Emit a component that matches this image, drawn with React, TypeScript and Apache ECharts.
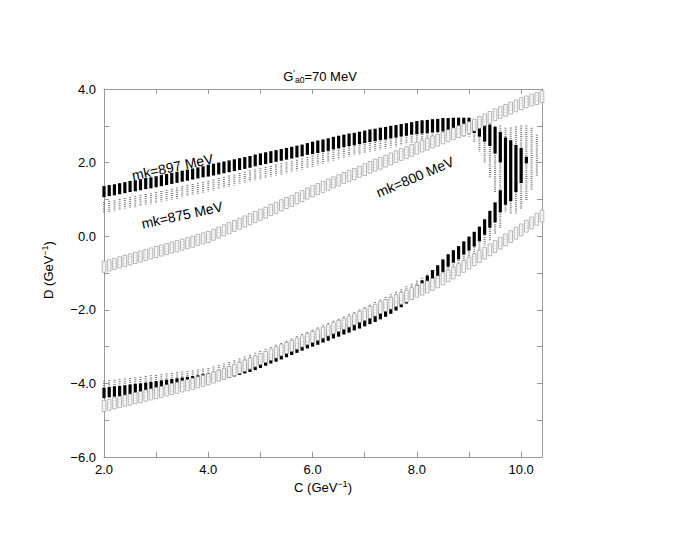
import React, { useEffect, useRef } from 'react';
import * as echarts from 'echarts';

// C grid (GeV^-1), one mark every 0.1
const C_GRID = [
  2.0, 2.1, 2.2, 2.3, 2.4, 2.5, 2.6, 2.7, 2.8, 2.9,
  3.0, 3.1, 3.2, 3.3, 3.4, 3.5, 3.6, 3.7, 3.8, 3.9,
  4.0, 4.1, 4.2, 4.3, 4.4, 4.5, 4.6, 4.7, 4.8, 4.9,
  5.0, 5.1, 5.2, 5.3, 5.4, 5.5, 5.6, 5.7, 5.8, 5.9,
  6.0, 6.1, 6.2, 6.3, 6.4, 6.5, 6.6, 6.7, 6.8, 6.9,
  7.0, 7.1, 7.2, 7.3, 7.4, 7.5, 7.6, 7.7, 7.8, 7.9,
  8.0, 8.1, 8.2, 8.3, 8.4, 8.5, 8.6, 8.7, 8.8, 8.9,
  9.0, 9.1, 9.2, 9.3, 9.4, 9.5, 9.6, 9.7, 9.8, 9.9,
  10.0, 10.1, 10.2, 10.3, 10.4,
];

// mk = 897 MeV (filled black), upper branch: centre and half-height of D
const MK897_UP_MID = [
  1.21, 1.24, 1.26, 1.29, 1.32, 1.35, 1.37, 1.40, 1.43, 1.45,
  1.48, 1.51, 1.54, 1.57, 1.60, 1.63, 1.66, 1.69, 1.72, 1.75,
  1.78, 1.81, 1.84, 1.87, 1.90, 1.93, 1.96, 1.99, 2.02, 2.06,
  2.09, 2.12, 2.15, 2.18, 2.21, 2.24, 2.27, 2.30, 2.33, 2.37,
  2.40, 2.43, 2.46, 2.49, 2.53, 2.56, 2.59, 2.62, 2.64, 2.67,
  2.70, 2.73, 2.75, 2.78, 2.80, 2.83, 2.85, 2.88, 2.90, 2.93,
  2.95, 2.97, 2.98, 3.00, 3.01, 3.03, 3.03, 3.04, 3.04, 3.04,
  3.04, 2.98, 2.91, 2.82, 2.74, 2.61, 2.42, 1.77, 1.78, 1.84,
  1.92, 2.07,
];
const MK897_UP_HALF = [
  0.15, 0.15, 0.15, 0.15, 0.15, 0.15, 0.15, 0.15, 0.15, 0.15,
  0.15, 0.15, 0.15, 0.15, 0.15, 0.15, 0.15, 0.15, 0.15, 0.15,
  0.16, 0.16, 0.16, 0.16, 0.16, 0.16, 0.16, 0.16, 0.16, 0.16,
  0.16, 0.16, 0.16, 0.16, 0.16, 0.16, 0.16, 0.16, 0.16, 0.16,
  0.17, 0.17, 0.17, 0.17, 0.17, 0.17, 0.17, 0.17, 0.17, 0.17,
  0.17, 0.17, 0.17, 0.17, 0.17, 0.17, 0.17, 0.17, 0.17, 0.17,
  0.18, 0.18, 0.18, 0.18, 0.18, 0.18, 0.18, 0.18, 0.18, 0.18,
  0.18, 0.175, 0.205, 0.25, 0.29, 0.36, 0.415, 0.915, 0.825, 0.64,
  0.475, 0.09,
];
// mk = 897 MeV, lower branch
const MK897_LO_MID = [
  -4.26, -4.24, -4.22, -4.21, -4.19, -4.17, -4.15, -4.14, -4.12, -4.10,
  -4.08, -4.06, -4.04, -4.02, -4.00, -3.98, -3.96, -3.94, -3.92, -3.89,
  -3.87, -3.83, -3.79, -3.75, -3.71, -3.67, -3.63, -3.59, -3.55, -3.50,
  -3.44, -3.38, -3.32, -3.27, -3.21, -3.15, -3.09, -3.03, -2.97, -2.91,
  -2.86, -2.81, -2.75, -2.70, -2.64, -2.59, -2.53, -2.48, -2.42, -2.37,
  -2.31, -2.25, -2.19, -2.12, -2.05, -1.97, -1.88, -1.79, -1.69, -1.58,
  -1.47, -1.35, -1.22, -1.08, -0.95, -0.80, -0.66, -0.55, -0.45, -0.32,
  -0.20, -0.08, 0.06, 0.25, 0.46, 0.65, 0.95,
];
const MK897_LO_HALF = [
  0.14, 0.14, 0.14, 0.14, 0.14, 0.14, 0.14, 0.14, 0.14, 0.14,
  0.14, 0.14, 0.14, 0.14, 0.14, 0.14, 0.14, 0.14, 0.14, 0.14,
  0.14, 0.14, 0.14, 0.14, 0.14, 0.14, 0.14, 0.14, 0.14, 0.14,
  0.14, 0.14, 0.14, 0.14, 0.14, 0.14, 0.14, 0.14, 0.14, 0.14,
  0.14, 0.14, 0.14, 0.14, 0.14, 0.14, 0.14, 0.14, 0.14, 0.14,
  0.14, 0.14, 0.14, 0.14, 0.14, 0.14, 0.14, 0.14, 0.14, 0.14,
  0.15, 0.15, 0.15, 0.16, 0.16, 0.17, 0.17, 0.17, 0.18, 0.18,
  0.19, 0.20, 0.20, 0.21, 0.23, 0.27, 0.30,
];

// mk = 875 MeV (grey dotted), upper branch
const MK875_UP_MID = [
  0.78, 0.81, 0.83, 0.86, 0.89, 0.92, 0.94, 0.97, 1.00, 1.02,
  1.05, 1.08, 1.11, 1.14, 1.17, 1.21, 1.24, 1.27, 1.30, 1.33,
  1.36, 1.39, 1.43, 1.46, 1.50, 1.53, 1.57, 1.60, 1.64, 1.67,
  1.70, 1.73, 1.76, 1.80, 1.83, 1.86, 1.89, 1.93, 1.96, 2.00,
  2.04, 2.08, 2.12, 2.16, 2.20, 2.24, 2.28, 2.31, 2.35, 2.38,
  2.41, 2.44, 2.47, 2.50, 2.53, 2.56, 2.59, 2.62, 2.65, 2.68,
  2.71, 2.74, 2.76, 2.78, 2.80, 2.82, 2.83, 2.84, 2.85, 2.85,
  2.86, 2.80, 2.68, 2.53, 2.33, 2.10, 1.93, 1.80, 1.78, 1.80,
  1.88, 1.98, 2.10, 2.19,
];
const MK875_UP_HALF = [
  0.15, 0.15, 0.15, 0.15, 0.15, 0.15, 0.15, 0.15, 0.15, 0.15,
  0.15, 0.15, 0.15, 0.15, 0.15, 0.15, 0.15, 0.15, 0.15, 0.15,
  0.15, 0.15, 0.15, 0.15, 0.15, 0.15, 0.15, 0.15, 0.15, 0.15,
  0.15, 0.15, 0.15, 0.15, 0.15, 0.15, 0.15, 0.15, 0.15, 0.15,
  0.15, 0.15, 0.15, 0.15, 0.15, 0.15, 0.15, 0.15, 0.15, 0.15,
  0.15, 0.15, 0.15, 0.15, 0.15, 0.15, 0.15, 0.15, 0.15, 0.15,
  0.15, 0.15, 0.15, 0.15, 0.15, 0.15, 0.15, 0.15, 0.15, 0.15,
  0.15, 0.25, 0.375, 0.525, 0.725, 0.90, 1.075, 1.15, 1.175, 1.18,
  1.125, 1.025, 0.85, 0.565,
];
// mk = 875 MeV, lower branch
const MK875_LO_MID = [
  -4.07, -4.05, -4.04, -4.02, -4.01, -3.99, -3.97, -3.96, -3.94, -3.92,
  -3.91, -3.89, -3.87, -3.86, -3.84, -3.82, -3.80, -3.78, -3.76, -3.74,
  -3.72, -3.68, -3.64, -3.60, -3.56, -3.51, -3.46, -3.41, -3.36, -3.31,
  -3.26, -3.20, -3.15, -3.09, -3.04, -2.98, -2.92, -2.86, -2.80, -2.74,
  -2.68, -2.62, -2.56, -2.50, -2.44, -2.38, -2.32, -2.26, -2.20, -2.13,
  -2.07, -2.00, -1.93, -1.86, -1.79, -1.72, -1.65, -1.58, -1.50, -1.43,
  -1.35, -1.27, -1.18, -1.10, -1.01, -0.92, -0.82, -0.72, -0.61, -0.50,
  -0.38, -0.25, -0.10, 0.06, 0.24, 0.44, 0.66,
];
const MK875_LO_HALF = [
  0.14, 0.14, 0.14, 0.14, 0.14, 0.14, 0.14, 0.14, 0.14, 0.14,
  0.14, 0.14, 0.14, 0.14, 0.14, 0.14, 0.14, 0.14, 0.14, 0.14,
  0.14, 0.14, 0.14, 0.14, 0.14, 0.14, 0.14, 0.14, 0.14, 0.14,
  0.14, 0.14, 0.14, 0.14, 0.14, 0.14, 0.14, 0.14, 0.14, 0.14,
  0.14, 0.14, 0.14, 0.14, 0.14, 0.14, 0.14, 0.14, 0.14, 0.14,
  0.14, 0.14, 0.14, 0.14, 0.14, 0.14, 0.14, 0.14, 0.14, 0.14,
  0.14, 0.14, 0.14, 0.14, 0.14, 0.16, 0.17, 0.18, 0.19, 0.20,
  0.22, 0.25, 0.28, 0.32, 0.36, 0.40, 0.45,
];

// mk = 800 MeV (open grey boxes), upper branch
const MK800_UP_MID = [
  -0.83, -0.79, -0.75, -0.71, -0.67, -0.63, -0.59, -0.55, -0.51, -0.47,
  -0.43, -0.39, -0.35, -0.31, -0.27, -0.23, -0.19, -0.15, -0.10, -0.06,
  -0.02, 0.04, 0.10, 0.16, 0.22, 0.28, 0.34, 0.40, 0.46, 0.52,
  0.58, 0.64, 0.71, 0.77, 0.84, 0.90, 0.96, 1.03, 1.09, 1.16,
  1.22, 1.28, 1.34, 1.40, 1.46, 1.52, 1.58, 1.64, 1.69, 1.75,
  1.81, 1.87, 1.93, 1.98, 2.04, 2.10, 2.16, 2.22, 2.27, 2.33,
  2.39, 2.45, 2.50, 2.56, 2.61, 2.67, 2.73, 2.78, 2.84, 2.89,
  2.95, 3.02, 3.09, 3.16, 3.23, 3.30, 3.36, 3.42, 3.48, 3.54,
  3.60, 3.65, 3.70, 3.74, 3.79,
];
const MK800_UP_HALF = [
  0.15, 0.15, 0.15, 0.15, 0.15, 0.15, 0.15, 0.15, 0.15, 0.15,
  0.15, 0.15, 0.15, 0.15, 0.15, 0.15, 0.15, 0.15, 0.15, 0.15,
  0.15, 0.15, 0.15, 0.15, 0.15, 0.15, 0.15, 0.15, 0.15, 0.15,
  0.15, 0.15, 0.15, 0.15, 0.15, 0.15, 0.15, 0.15, 0.15, 0.15,
  0.15, 0.15, 0.15, 0.15, 0.15, 0.15, 0.15, 0.15, 0.15, 0.15,
  0.16, 0.16, 0.16, 0.16, 0.16, 0.16, 0.16, 0.16, 0.16, 0.16,
  0.16, 0.16, 0.16, 0.16, 0.16, 0.16, 0.16, 0.16, 0.16, 0.16,
  0.16, 0.16, 0.16, 0.16, 0.16, 0.16, 0.16, 0.16, 0.16, 0.16,
  0.16, 0.16, 0.16, 0.16, 0.16,
];
// mk = 800 MeV, lower branch
const MK800_LO_MID = [
  -4.61, -4.58, -4.54, -4.51, -4.47, -4.44, -4.40, -4.37, -4.33, -4.30,
  -4.26, -4.23, -4.19, -4.15, -4.12, -4.08, -4.05, -4.01, -3.97, -3.93,
  -3.89, -3.84, -3.79, -3.74, -3.69, -3.64, -3.58, -3.52, -3.46, -3.40,
  -3.34, -3.28, -3.22, -3.16, -3.10, -3.04, -2.98, -2.92, -2.86, -2.80,
  -2.74, -2.68, -2.62, -2.56, -2.50, -2.44, -2.38, -2.32, -2.26, -2.19,
  -2.13, -2.07, -2.01, -1.94, -1.88, -1.82, -1.75, -1.69, -1.63, -1.56,
  -1.50, -1.44, -1.38, -1.31, -1.24, -1.16, -1.08, -1.00, -0.91, -0.82,
  -0.73, -0.64, -0.55, -0.46, -0.37, -0.28, -0.19, -0.10, -0.01, 0.08,
  0.17, 0.27, 0.36, 0.46, 0.55,
];
const MK800_LO_HALF = MK800_UP_HALF;

const X_MIN = 2;
const X_MAX = 10.4;
const Y_MIN = -6;
const Y_MAX = 4;
const TICK_STEP = 1;
const LABEL_STEP = 2;

const TITLE_MAIN = 'G';
const TITLE_PRIME = "'";
const TITLE_SUB = 'a0';
const TITLE_REST = '=70 MeV';
const X_NAME = 'C (GeV';
const Y_NAME = 'D (GeV';
const NAME_SUP = '\u22121';
const LABEL_897 = 'mk=897 MeV';
const LABEL_875 = 'mk=875 MeV';
const LABEL_800 = 'mk=800 MeV';

const FONT = '"Liberation Sans", Arial, Helvetica, sans-serif';
const AXIS_GREY = '#999999';

function pack(mid: number[], half: number[]) {
  return mid.map((m, i) => [C_GRID[i], m, half[i]]);
}

function fmt(v: number) {
  const r = Math.round(v);
  if (Math.abs(v - r) > 1e-6 || r % LABEL_STEP !== 0) return '';
  const s = Math.abs(r).toFixed(1);
  return r < 0 ? '\u2212' + s : s;
}

function ends(api: any) {
  const c = api.value(0);
  const m = api.value(1);
  const h = api.value(2);
  const top = api.coord([c, m + h]);
  const bot = api.coord([c, m - h]);
  return { x: top[0], y1: top[1], y2: bot[1] };
}

const renderSolid = (_p: any, api: any) => {
  const e = ends(api);
  return {
    type: 'rect',
    shape: { x: e.x - 1.6, y: e.y1, width: 3.2, height: e.y2 - e.y1 },
    style: { fill: '#000000' },
  };
};

const renderDotted = (_p: any, api: any) => {
  const e = ends(api);
  return {
    type: 'line',
    shape: { x1: e.x, y1: e.y1, x2: e.x, y2: e.y2 },
    style: { stroke: '#7d7d7d', lineWidth: 2, lineDash: [1, 1.1] },
  };
};

const renderBox = (_p: any, api: any) => {
  const e = ends(api);
  const w = 3.6;
  const x0 = e.x - w / 2;
  const children: any[] = [
    {
      type: 'rect',
      shape: { x: x0, y: e.y1, width: w, height: e.y2 - e.y1 },
      style: { fill: '#ffffff', stroke: '#959595', lineWidth: 0.7 },
    },
  ];
  for (let yy = e.y1 + 2.7; yy < e.y2 - 1.2; yy += 2.7) {
    children.push({
      type: 'line',
      shape: { x1: x0, y1: yy, x2: x0 + w, y2: yy },
      style: { stroke: '#c4c4c4', lineWidth: 0.5 },
    });
  }
  return { type: 'group', children };
};

function customSeries(name: string, data: number[][], renderItem: any) {
  return {
    type: 'custom',
    name,
    data,
    renderItem,
    silent: true,
    encode: { x: 0, y: 1 },
    dimensions: ['C', 'D', 'half'],
  };
}

export default function App() {
  const ref = useRef<HTMLDivElement>(null);

  useEffect(() => {
    if (!ref.current) return;
    const chart = echarts.init(ref.current, undefined, { renderer: 'svg' });

    const axisCommon = {
      type: 'value' as const,
      axisLine: { show: true, onZero: false, lineStyle: { color: AXIS_GREY, width: 1 } },
      axisTick: { show: true, inside: true, length: 5, lineStyle: { color: AXIS_GREY } },
      splitLine: { show: false },
    };

    const option: any = {
      animation: false,
      backgroundColor: '#ffffff',
      grid: { left: 104, right: 150, top: 89, bottom: 78, containLabel: false },
      xAxis: [
        {
          ...axisCommon,
          min: X_MIN,
          max: X_MAX,
          interval: TICK_STEP,
          position: 'bottom',
          axisLabel: {
            formatter: fmt,
            color: '#000',
            fontSize: 13,
            fontFamily: FONT,
            margin: 6,
            showMaxLabel: false,
          },
        },
        {
          ...axisCommon,
          min: X_MIN,
          max: X_MAX,
          interval: TICK_STEP,
          position: 'top',
          axisLabel: { show: false },
        },
      ],
      yAxis: [
        {
          ...axisCommon,
          min: Y_MIN,
          max: Y_MAX,
          interval: TICK_STEP,
          position: 'left',
          axisLabel: {
            formatter: fmt,
            color: '#000',
            fontSize: 13,
            fontFamily: FONT,
            margin: 8,
          },
        },
        {
          ...axisCommon,
          min: Y_MIN,
          max: Y_MAX,
          interval: TICK_STEP,
          position: 'right',
          axisLabel: { show: false },
        },
      ],
      series: [
        customSeries('mk=875 up', pack(MK875_UP_MID, MK875_UP_HALF), renderDotted),
        customSeries('mk=875 lo', pack(MK875_LO_MID, MK875_LO_HALF), renderDotted),
        customSeries('mk=897 up', pack(MK897_UP_MID, MK897_UP_HALF), renderSolid),
        customSeries('mk=897 lo', pack(MK897_LO_MID, MK897_LO_HALF), renderSolid),
        customSeries('mk=800 up', pack(MK800_UP_MID, MK800_UP_HALF), renderBox),
        customSeries('mk=800 lo', pack(MK800_LO_MID, MK800_LO_HALF), renderBox),
      ],
      graphic: [
        {
          type: 'text',
          x: 320,
          y: 76,
          silent: true,
          style: {
            text: `{a|${TITLE_MAIN}}{p|${TITLE_PRIME}}{s|${TITLE_SUB}}{a|${TITLE_REST}}`,
            align: 'center',
            verticalAlign: 'middle',
            rich: {
              a: { fontSize: 13, fontFamily: FONT, fill: '#000', lineHeight: 16 },
              p: { fontSize: 9, fontFamily: FONT, fill: '#000', lineHeight: 9, verticalAlign: 'top' },
              s: { fontSize: 8.5, fontFamily: FONT, fill: '#000', lineHeight: 9, verticalAlign: 'bottom' },
            },
          },
        },
        {
          type: 'text',
          x: 323,
          y: 487,
          silent: true,
          style: {
            text: `{a|${X_NAME}}{s|${NAME_SUP}}{a|)}`,
            align: 'center',
            verticalAlign: 'middle',
            rich: {
              a: { fontSize: 13, fontFamily: FONT, fill: '#000', lineHeight: 16 },
              s: { fontSize: 9, fontFamily: FONT, fill: '#000', lineHeight: 9, verticalAlign: 'top' },
            },
          },
        },
        {
          type: 'text',
          x: 48,
          y: 270,
          rotation: Math.PI / 2,
          silent: true,
          style: {
            text: `{a|${Y_NAME}}{s|${NAME_SUP}}{a|)}`,
            align: 'center',
            verticalAlign: 'middle',
            rich: {
              a: { fontSize: 13, fontFamily: FONT, fill: '#000', lineHeight: 16 },
              s: { fontSize: 9, fontFamily: FONT, fill: '#000', lineHeight: 9, verticalAlign: 'top' },
            },
          },
        },
        {
          type: 'text',
          x: 172.5,
          y: 167,
          rotation: (12 * Math.PI) / 180,
          silent: true,
          style: { text: LABEL_897, fontSize: 14, fontFamily: FONT, fill: '#000', align: 'center', verticalAlign: 'middle' },
        },
        {
          type: 'text',
          x: 182,
          y: 215,
          rotation: (12.5 * Math.PI) / 180,
          silent: true,
          style: { text: LABEL_875, fontSize: 14, fontFamily: FONT, fill: '#000', align: 'center', verticalAlign: 'middle' },
        },
        {
          type: 'text',
          x: 415,
          y: 177,
          rotation: (23 * Math.PI) / 180,
          silent: true,
          style: { text: LABEL_800, fontSize: 14, fontFamily: FONT, fill: '#000', align: 'center', verticalAlign: 'middle' },
        },
      ],
    };

    chart.setOption(option);
    return () => chart.dispose();
  }, []);

  return (
    <div
      ref={ref}
      style={{ position: 'absolute', left: 0, top: 0, width: 692, height: 535, background: '#fff' }}
    />
  );
}
